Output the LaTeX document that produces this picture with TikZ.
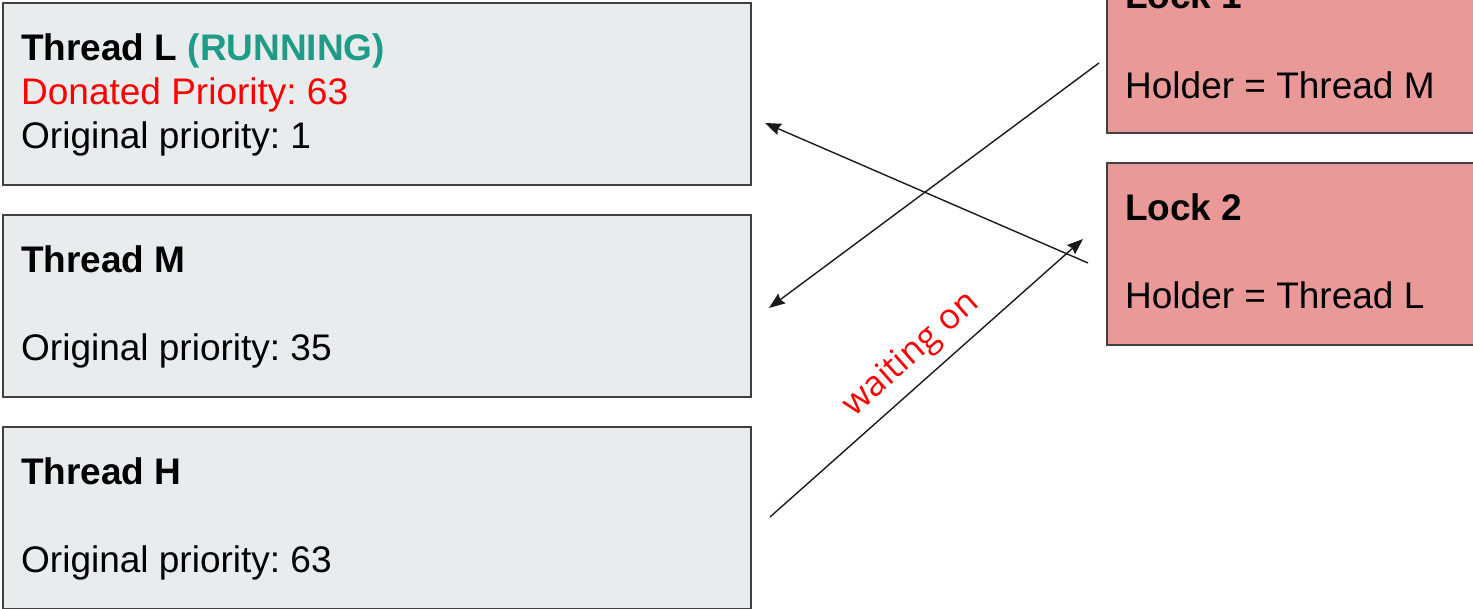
\documentclass[tikz,border=0pt]{standalone}
\usepackage{fontspec}
\setmainfont{Liberation Sans}
\newfontfamily\labelfont{Open Sans}
\usetikzlibrary{arrows.meta}
\frenchspacing
\definecolor{threadfill}{HTML}{E9ECED}
\definecolor{lockfill}{HTML}{EA9999}
\definecolor{boxline}{HTML}{404040}
\definecolor{runcolor}{HTML}{1E9C87}
\definecolor{linkcolor}{HTML}{1A1A1A}
\tikzset{
  threadbox/.style={draw=boxline, line width=1.6pt, fill=threadfill,
    minimum width=748pt, minimum height=182pt, inner sep=0pt, anchor=north west},
  lockbox/.style={draw=boxline, line width=1.6pt, fill=lockfill,
    minimum width=372pt, minimum height=182pt, inner sep=0pt, anchor=north west},
  txt/.style={anchor=base west, inner sep=0pt, font=\fontsize{37}{44}\selectfont},
  ttl/.style={txt, font=\fontsize{37}{44}\selectfont\bfseries},
  link/.style={draw=linkcolor, line width=1.4pt,
    -{Stealth[length=16pt, width=12pt, inset=2pt]}},
}
\begin{document}
\begin{tikzpicture}[x=1pt, y=1pt]
  \useasboundingbox (0,0) rectangle (1473,609);
  \clip (0,0) rectangle (1473,609);

  % thread boxes
  \node[threadbox] (tl) at (2,607) {};
  \node[threadbox] (tm) at (2,395) {};
  \node[threadbox] (th) at (2,183) {};

  % lock boxes (they run past the right edge)
  \node[lockbox] (l1) at (1106,659) {};
  \node[lockbox] (l2) at (1106,447) {};

  % thread texts
  \node[ttl] (tlname) at ([shift={(19,-59)}]tl.north west) {Thread L \textcolor{runcolor}{(RUNNING)}};
  \node[txt, text=red] (tldon) at ([shift={(19,-103)}]tl.north west) {Donated Priority: 63};
  \node[txt] (tlorig) at ([shift={(19,-147)}]tl.north west) {Original priority: 1};

  \node[ttl] (tmname) at ([shift={(19,-59)}]tm.north west) {Thread M};
  \node[txt] (tmorig) at ([shift={(19,-147)}]tm.north west) {Original priority: 35};

  \node[ttl] (thname) at ([shift={(19,-59)}]th.north west) {Thread H};
  \node[txt] (thorig) at ([shift={(19,-147)}]th.north west) {Original priority: 63};

  % lock texts
  \node[ttl] (l1name) at ([shift={(19,-59)}]l1.north west) {Lock 1};
  \node[txt] (l1hold) at ([shift={(19,-149)}]l1.north west) {Holder = Thread M};
  \node[ttl] (l2name) at ([shift={(19,-59)}]l2.north west) {Lock 2};
  \node[txt] (l2hold) at ([shift={(19,-147)}]l2.north west) {Holder = Thread L};

  % connector end points in the gap between the columns
  \coordinate (l2out) at (1088,346);
  \coordinate (tlin)  at (765,486);
  \coordinate (l1out) at (1099,546);
  \coordinate (tmin)  at (769,301);
  \coordinate (thout) at (770,92);
  \coordinate (l2in)  at (1083,370);

  \draw[link] (l2out) -- (tlin);
  \draw[link] (l1out) -- (tmin);
  \draw[link] (thout) -- node[sloped, pos=0.51, above=6pt, text=red,
    font=\labelfont\fontsize{35}{42}\selectfont] (wait) {waiting on} (l2in);
\end{tikzpicture}
\end{document}
